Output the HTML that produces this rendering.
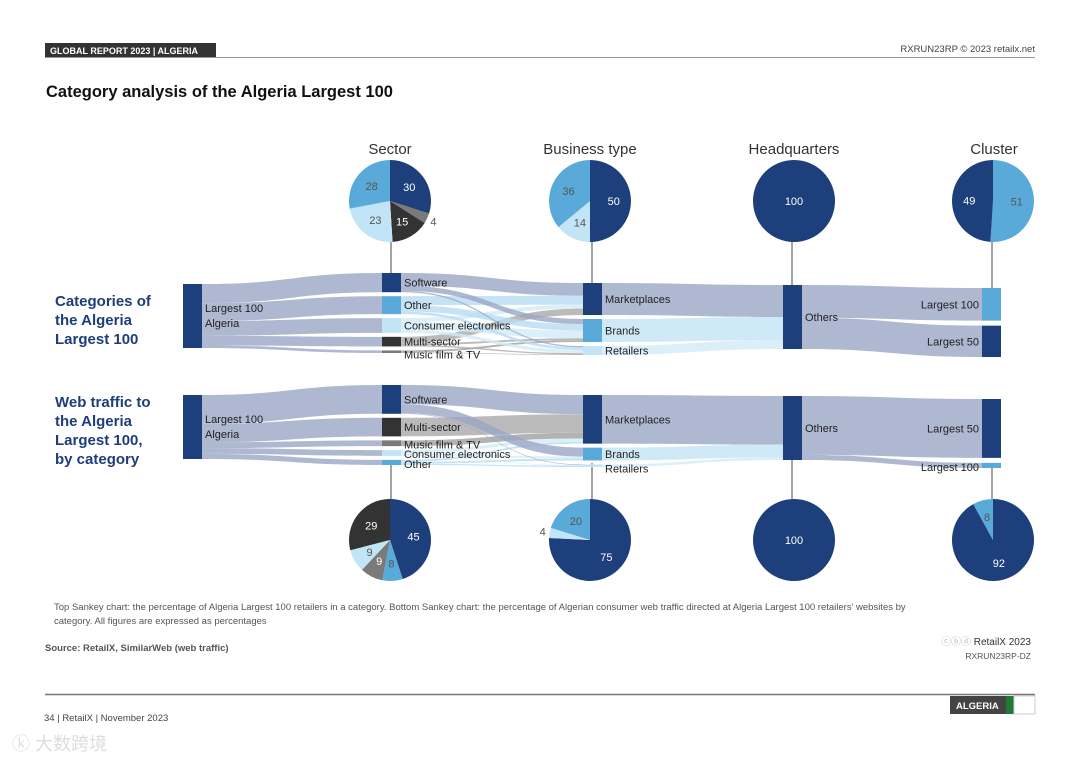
<!DOCTYPE html>
<html><head><meta charset="utf-8"><style>
body{margin:0;background:#fff;width:1080px;height:763px;overflow:hidden;font-family:"Liberation Sans",sans-serif;}
svg{position:absolute;left:0;top:0}
</style></head><body>
<svg id="chart" width="1080" height="763" viewBox="0 0 1080 763">
<rect x="45" y="43" width="171" height="14" fill="#333"/>
<text x="50" y="54" font-size="9" font-weight="bold" fill="#fff">GLOBAL REPORT 2023 | ALGERIA</text>
<line x1="45" y1="57.5" x2="1035" y2="57.5" stroke="#999" stroke-width="1"/>
<text x="1035" y="52" font-size="9.5" fill="#444" text-anchor="end">RXRUN23RP © 2023 retailx.net</text>
<text x="46" y="97" font-size="16.5" font-weight="bold" fill="#111">Category analysis of the Algeria Largest 100</text>
<g font-size="15" fill="#333" text-anchor="middle">
<text x="390" y="154">Sector</text>
<text x="590" y="154">Business type</text>
<text x="794" y="154">Headquarters</text>
<text x="994" y="154">Cluster</text>
</g>
<g font-size="15" font-weight="bold" fill="#1f3d7a">
<text><tspan x="55" y="306">Categories of</tspan><tspan x="55" y="325">the Algeria</tspan><tspan x="55" y="344">Largest 100</tspan></text>
<text><tspan x="55" y="407">Web traffic to</tspan><tspan x="55" y="426">the Algeria</tspan><tspan x="55" y="445">Largest 100,</tspan><tspan x="55" y="464">by category</tspan></text>
</g>
<g id="connectors" stroke="#666" stroke-width="1.2"></g>
<g id="links"></g>
<g id="nodes"></g>
<g id="pies"></g>
<g font-size="9.5" fill="#555">
<text x="54" y="610">Top Sankey chart:  the percentage of Algeria Largest 100 retailers in a category. Bottom Sankey chart:  the percentage of Algerian consumer web traffic directed at Algeria Largest 100 retailers' websites by</text>
<text x="54" y="624">category. All figures are expressed as percentages</text>
</g>
<text x="45" y="651" font-size="9.5" font-weight="bold" fill="#555">Source: RetailX, SimilarWeb (web traffic)</text>
<text x="1031" y="645" font-size="10" fill="#333" text-anchor="end"><tspan fill="#bbb">ⓒⓑⓓ </tspan>RetailX 2023</text>
<text x="1031" y="659" font-size="8.5" fill="#555" text-anchor="end">RXRUN23RP-DZ</text>
<line x1="45" y1="694.5" x2="1035" y2="694.5" stroke="#777" stroke-width="1.5"/>
<text x="44" y="721" font-size="9.5" fill="#444">34 | RetailX | November 2023</text>
<rect x="950" y="696" width="56" height="18" fill="#444"/>
<text x="956" y="709" font-size="9.5" font-weight="bold" fill="#fff">ALGERIA</text>
<rect x="1006" y="696" width="8" height="18" fill="#1f7a3a"/>
<rect x="1014" y="696" width="21" height="18" fill="#fff" stroke="#ccc"/>
<text x="12" y="750" font-size="18" fill="#ddd">ⓚ 大数跨境</text>
</svg>
<script>
const NS="http://www.w3.org/2000/svg";
const C={navy:"#1d3f7c",mid:"#5aaad9",light:"#c2e4f7",dark:"#333333",gray:"#7a7a7a"};
// Pie data
const topSectorValues=[30,4,15,23,28];
const topSectorColors=["navy","gray","dark","light","mid"];
const topBusinessValues=[50,14,36];
const topBusinessColors=["navy","light","mid"];
const topHQValues=[100];
const topClusterValues=[51,49];
const topClusterColors=["mid","navy"];
const botSectorValues=[45,8,9,9,29];
const botSectorColors=["navy","mid","gray","light","dark"];
const botBusinessValues=[75,4,20];
const botBusinessColors=["navy","light","mid"];
const botHQValues=[100];
const botClusterValues=[92,8];
const botClusterColors=["navy","mid"];
// Sankey data (top)
const topSectors=["Software","Other","Consumer electronics","Multi-sector","Music film & TV"];
const topSectorToMarket=[20,14,6,10,0];
const topSectorToBrands=[8,10,12,3,3];
const topSectorToRetail=[2,4,5,2,1];
const topClusters=["Largest 100","Largest 50"];
// Sankey data (bottom)
const botSectors=["Software","Multi-sector","Music film & TV","Consumer electronics","Other"];
const botSectorToMarket=[30,29,9,5,3];
const botSectorToBrands=[14,0,0,3,3];
const botSectorToRetail=[1,0,0,1,2];
const botClusters=["Largest 50","Largest 100"];
const businessTypes=["Marketplaces","Brands","Retailers"];

function el(tag,attrs,parent){const e=document.createElementNS(NS,tag);for(const k in attrs)e.setAttribute(k,attrs[k]);parent.appendChild(e);return e;}
const pies=document.getElementById('pies');
function pie(cx,cy,r,vals,cols,name,labelColors){
  const tot=vals.reduce((a,b)=>a+b,0);let a0=0;
  vals.forEach((v,i)=>{
    const a1=a0+v/tot*2*Math.PI;
    let p;
    if(v>=tot){p=el('circle',{cx:cx,cy:cy,r:r,fill:C[cols[i]]},pies);}
    else{
      const x0=cx+r*Math.sin(a0),y0=cy-r*Math.cos(a0),x1=cx+r*Math.sin(a1),y1=cy-r*Math.cos(a1);
      p=el('path',{d:`M${cx},${cy}L${x0},${y0}A${r},${r} 0 ${a1-a0>Math.PI?1:0} 1 ${x1},${y1}Z`,fill:C[cols[i]]},pies);
    }
    
    
    const am=(a0+a1)/2;let rr=v>=tot?0:(v<6?r+7:r*0.58);
    const t=el('text',{x:cx+rr*Math.sin(am),y:cy-rr*Math.cos(am)+4,'font-size':11,'text-anchor':'middle',fill:v<6?'#555':(cols[i]==='light'||cols[i]==='mid'?'#555':'#fff')},pies);
    t.textContent=v;
    
    
    a0=a1;
  });
}
const R=41;
pie(390,201,R,topSectorValues,topSectorColors,'top-sector-pie');
pie(590,201,R,topBusinessValues,topBusinessColors,'top-business-pie');
pie(794,201,R,topHQValues,["navy"],'top-hq-pie');
pie(993,201,R,topClusterValues,topClusterColors,'top-cluster-pie');
pie(390,540,R,botSectorValues,botSectorColors,'bottom-sector-pie');
pie(590,540,R,botBusinessValues,botBusinessColors,'bottom-business-pie');
pie(794,540,R,botHQValues,["navy"],'bottom-hq-pie');
pie(993,540,R,botClusterValues,botClusterColors,'bottom-cluster-pie');
const conn=document.getElementById('connectors');
[[391,242,273],[592,242,283],[792,242,285],[992,242,288],[391,463,499],[592,463,499],[792,460,499],[992,467,499]].forEach((c,i)=>{
  const l=el('line',{x1:c[0],y1:c[1],x2:c[0],y2:c[2]},conn);
  
  
});

const linksG=document.getElementById('links'),nodesG=document.getElementById('nodes');
const S=0.64,W=19,GAP=4;
const COLX=[183,382,583,783,982];
function sankey(prefix,sectors,sectorCols,toM,toB,toR,clusters,clusterVals,clusterCols,tops,clusterGap){
  const secVals=sectors.map((s,i)=>toM[i]+toB[i]+toR[i]);
  const busVals=[toM,toB,toR].map(a=>a.reduce((x,y)=>x+y,0));
  const total=secVals.reduce((a,b)=>a+b,0);
  function layout(vals,top,gap){let y=top;return vals.map(v=>{const n={y:y,h:Math.max(v*S,2),out:y,in:y};y+=n.h+gap;return n;});}
  const src=layout([total],tops[0],0),sec=layout(secVals,tops[1],GAP),bus=layout(busVals,tops[2],GAP),hq=layout([busVals.reduce((a,b)=>a+b,0)],tops[3],0),cl=layout(clusterVals,tops[4],clusterGap);
  function link(x0,n0,x1,n1,v,col,name){
    const h=v*S;if(h<=0)return;
    const y0=n0.out,y1=n1.in;n0.out+=h;n1.in+=h;
    const xa=x0+W,xb=x1,xm=(xa+xb)/2;
    const p=el('path',{d:`M${xa},${y0}C${xm},${y0} ${xm},${y1} ${xb},${y1}L${xb},${y1+h}C${xm},${y1+h} ${xm},${y0+h} ${xa},${y0+h}Z`,fill:col,opacity:0.8},linksG);
    
    
  }
  sec.forEach((n,i)=>link(COLX[0],src[0],COLX[1],n,secVals[i],'#9aa6c5',prefix+'-flow-source-'+i));
  const flowCol={navy:'#9aa6c5',mid:'#b6dcf1',light:'#d2ebf8',dark:'#a9a9a9',gray:'#a0a0a0'};
  [toM,toB,toR].forEach((arr,j)=>arr.forEach((v,i)=>link(COLX[1],sec[i],COLX[2],bus[j],v,flowCol[sectorCols[i]],prefix+'-flow-'+i+'-'+j)));
  const busCols=['#9aa6c5','#c4e3f5','#d2ebf8'];
  bus.forEach((n,j)=>link(COLX[2],n,COLX[3],hq[0],busVals[j],busCols[j],prefix+'-flow-business-'+j));
  cl.forEach((n,k)=>link(COLX[3],hq[0],COLX[4],n,clusterVals[k],'#9aa6c5',prefix+'-flow-cluster-'+k));
  function node(x,n,col,label,name,left){
    const r=el('rect',{x:x,y:n.y,width:W,height:n.h,fill:col},nodesG);
    
    
    if(label){const t=el('text',{x:left?x-3:x+W+3,y:n.y+Math.max(n.h/2,4)+4,'font-size':11,fill:'#222','text-anchor':left?'end':'start'},nodesG);t.textContent=label;
    
    }
  }
  node(COLX[0],src[0],C.navy,'',prefix+'-source-node');
  const st=el('text',{x:COLX[0]+W+3,y:src[0].y+28,'font-size':11,fill:'#222'},nodesG);
  st.innerHTML='<tspan x="'+(COLX[0]+W+3)+'">Largest 100</tspan><tspan x="'+(COLX[0]+W+3)+'" dy="15">Algeria</tspan>';
  
  
  sec.forEach((n,i)=>node(COLX[1],n,C[sectorCols[i]],sectors[i],prefix+'-sector-node-'+i));
  bus.forEach((n,j)=>node(COLX[2],n,C[['navy','mid','light'][j]],businessTypes[j],prefix+'-business-node-'+j));
  node(COLX[3],hq[0],C.navy,'Others',prefix+'-hq-node');
  cl.forEach((n,k)=>node(COLX[4],n,C[clusterCols[k]],clusters[k],prefix+'-cluster-node-'+k,true));
}
sankey('top',topSectors,["navy","mid","light","dark","gray"],topSectorToMarket,topSectorToBrands,topSectorToRetail,topClusters,topClusterValues,topClusterColors,[284,273,283,285,288],5);
sankey('bottom',botSectors,["navy","dark","gray","light","mid"],botSectorToMarket,botSectorToBrands,botSectorToRetail,botClusters,botClusterValues,botClusterColors,[395,385,395,396,399],5);
</script>
</body></html>
